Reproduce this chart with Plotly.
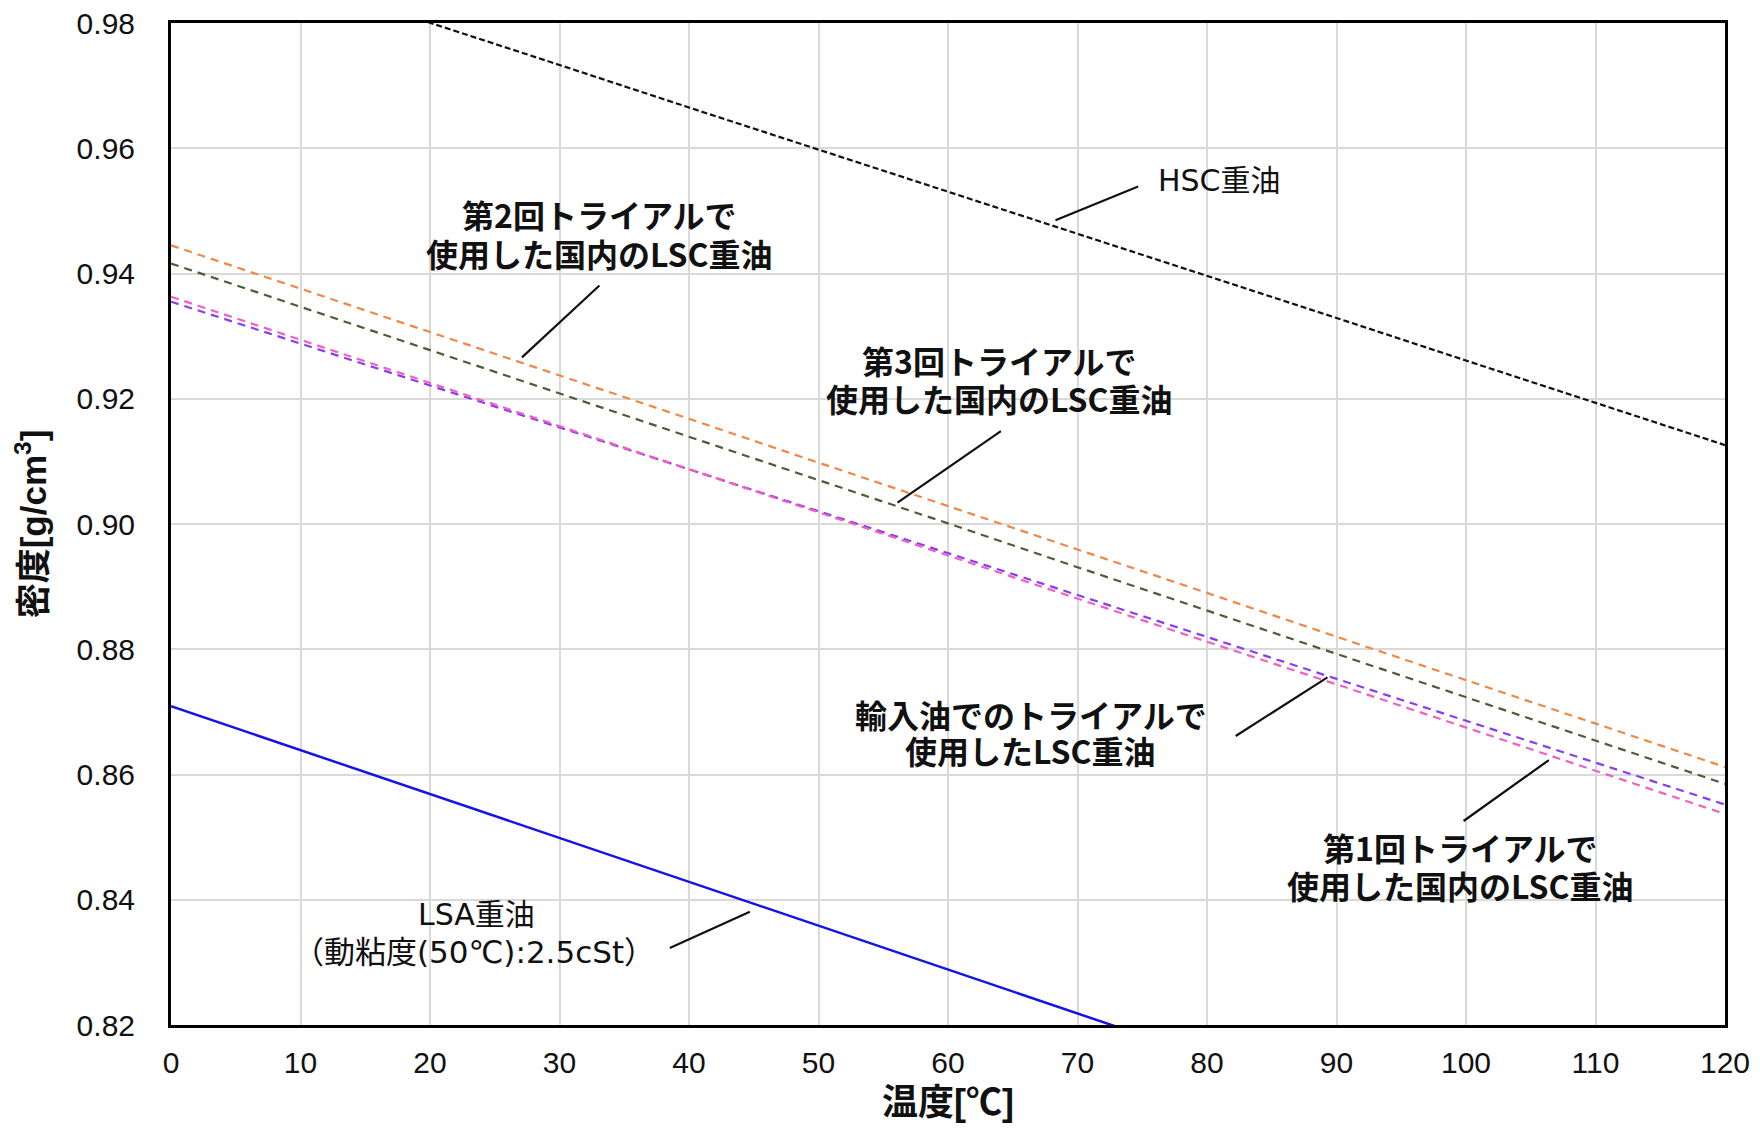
import plotly.graph_objects as go

# ---- data ----
temperature = [0, 10, 20, 30, 40, 50, 60, 70, 80, 90, 100, 110, 120]

hsc = [0.9935, 0.9868, 0.9800, 0.9733, 0.9665, 0.9598, 0.9531, 0.9463, 0.9396, 0.9329, 0.9261, 0.9194, 0.9126]
lsc_trial2 = [0.9445, 0.9376, 0.9306, 0.9237, 0.9168, 0.9098, 0.9029, 0.8959, 0.8890, 0.8820, 0.8751, 0.8682, 0.8612]
lsc_trial3 = [0.9416, 0.9347, 0.9278, 0.9208, 0.9139, 0.9070, 0.9001, 0.8931, 0.8862, 0.8793, 0.8724, 0.8654, 0.8585]
lsc_import = [0.9355, 0.9288, 0.9221, 0.9154, 0.9087, 0.9020, 0.8954, 0.8887, 0.8820, 0.8753, 0.8686, 0.8619, 0.8552]
lsc_trial1 = [0.9363, 0.9294, 0.9225, 0.9157, 0.9088, 0.9019, 0.8950, 0.8881, 0.8812, 0.8744, 0.8675, 0.8606, 0.8537]
lsa = [0.8709, 0.8639, 0.8569, 0.8499, 0.8429, 0.8359, 0.8288, 0.8218, 0.8148, 0.8078, 0.8008, 0.7938, 0.7868]

x_ticks = [0, 10, 20, 30, 40, 50, 60, 70, 80, 90, 100, 110, 120]
y_ticks = [0.82, 0.84, 0.86, 0.88, 0.90, 0.92, 0.94, 0.96, 0.98]

JP = "Noto Sans CJK JP"
JP_WIDE = "DejaVu Sans, Noto Sans CJK JP"
LAT = "Liberation Sans"
TITLE = "Liberation Sans, Noto Sans CJK JP"

fig = go.Figure()

def add_line(y, color, dash, width=2.2):
    fig.add_trace(go.Scatter(x=temperature, y=y, mode="lines",
                             line=dict(color=color, width=width, dash=dash),
                             showlegend=False, hoverinfo="skip"))

add_line(hsc, "#111111", "6px,3px")
add_line(lsc_trial2, "#EE8844", "8px,6px")
add_line(lsc_trial3, "#4A5E38", "8px,6px")
add_line(lsc_import, "#8B3CF0", "8px,6px")
add_line(lsc_trial1, "#F060C0", "8px,6px")
add_line(lsa, "#1414E6", "solid", 2.5)

annotations = []

def label(x, y, text, bold=True, xanchor="center", size=32):
    annotations.append(dict(x=x, y=y, xref="x", yref="y", text=(f"<b>{text}</b>" if bold else text),
                            showarrow=False, xanchor=xanchor, yanchor="middle",
                            font=dict(family=(JP if bold else JP_WIDE), size=size, color="#111111")))

def pointer(x0, y0, x1, y1):
    annotations.append(dict(x=x1, y=y1, ax=x0, ay=y0, xref="x", yref="y", axref="x", ayref="y",
                            text="", showarrow=True, arrowhead=0, arrowwidth=2.2,
                            arrowcolor="#111111", standoff=0, startstandoff=0))

# HSC
label(76.1, 0.9549, "HSC重油", bold=False, xanchor="left", size=30)
pointer(74.8, 0.9540, 68.3, 0.9485)
# 2nd trial
label(33.1, 0.9495, "第2回トライアルで")
label(33.1, 0.9433, "使用した国内のLSC重油")
pointer(33.2, 0.9383, 27.1, 0.9266)
# 3rd trial
label(64.0, 0.9262, "第3回トライアルで")
label(64.0, 0.9202, "使用した国内のLSC重油")
pointer(64.2, 0.9150, 56.1, 0.9034)
# imported
label(66.4, 0.8696, "輸入油でのトライアルで")
label(66.4, 0.8639, "使用したLSC重油")
pointer(82.1, 0.8660, 89.3, 0.8755)
# 1st trial
label(99.6, 0.8485, "第1回トライアルで")
label(99.6, 0.8424, "使用した国内のLSC重油")
pointer(99.7, 0.8524, 106.4, 0.8623)
# LSA
label(23.6, 0.8376, "LSA重油", bold=False, size=30)
label(23.4, 0.8317, "（動粘度(50℃):2.5cSt）", bold=False, size=31)
pointer(38.4, 0.8322, 44.7, 0.8381)

# the page body adds an 8px margin, so the figure is offset by 8px
fig.update_layout(
    width=1744, height=1115,
    margin=dict(l=163, r=27, t=15, b=98, autoexpand=False),
    paper_bgcolor="white", plot_bgcolor="white",
    annotations=annotations,
    showlegend=False,
)

fig.update_xaxes(
    range=[0, 120], tickvals=x_ticks, ticktext=[str(v) for v in x_ticks],
    showgrid=True, gridcolor="#D9D9D9", gridwidth=2,
    showline=True, linecolor="black", linewidth=3, mirror=True,
    ticks="", ticklabelstandoff=9, ticklabeloverflow="allow",
    tickfont=dict(family=LAT, size=30, color="#111111"),
    zeroline=False, automargin=False,
    title=dict(text="<b>温度[℃]</b>", font=dict(family=TITLE, size=36, color="#111111"), standoff=22),
)
fig.update_yaxes(
    range=[0.82, 0.98], tickvals=y_ticks, ticktext=[f"{v:.2f}" for v in y_ticks],
    showgrid=True, gridcolor="#D9D9D9", gridwidth=2,
    showline=True, linecolor="black", linewidth=3, mirror=True,
    ticks="", ticklabelstandoff=27, ticklabeloverflow="allow",
    tickfont=dict(family=LAT, size=30, color="#111111"),
    zeroline=False, automargin=False,
    title=dict(text="<b>密度[g/cm<sup>3</sup>]</b>", font=dict(family=TITLE, size=35, color="#111111"), standoff=20),
)

fig.write_html("out.html")
